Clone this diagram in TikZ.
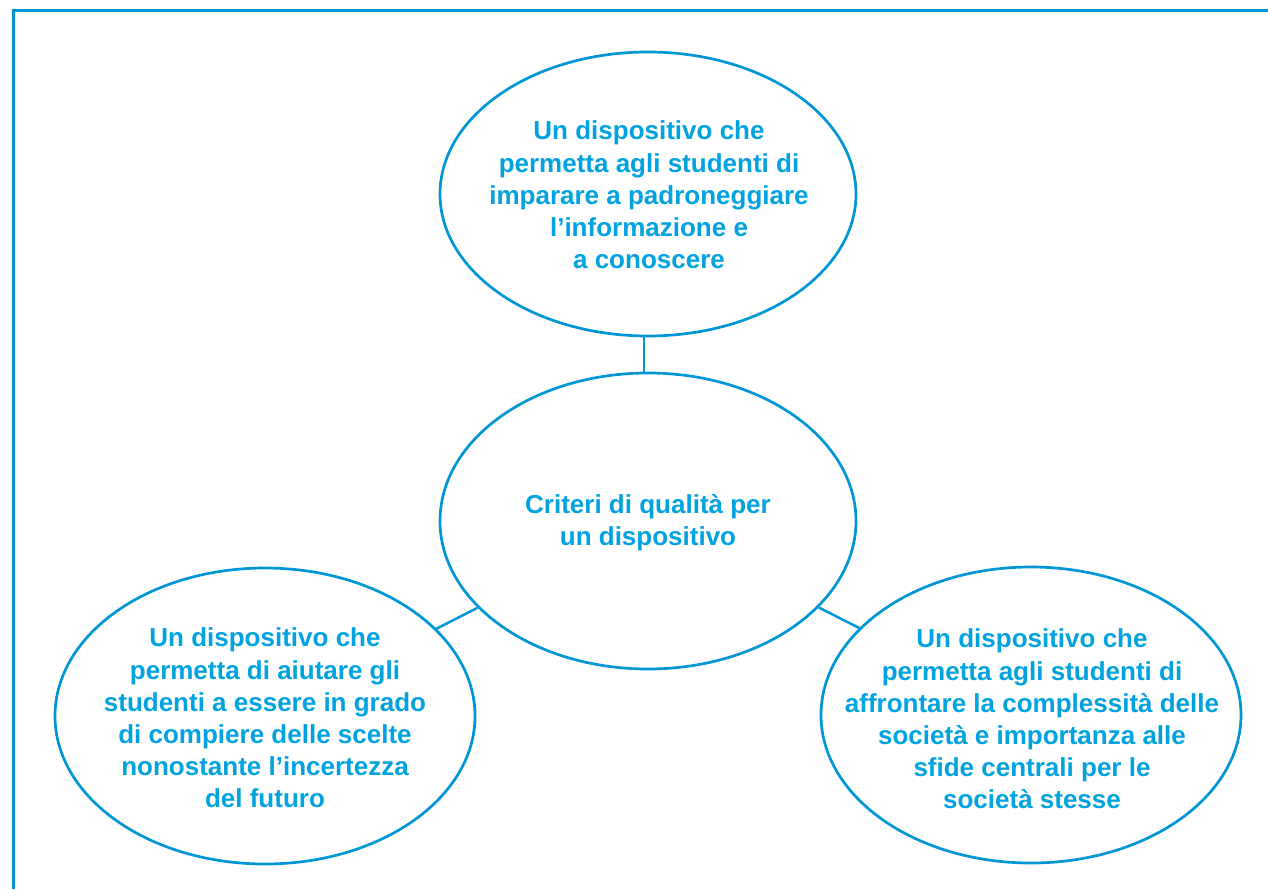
\documentclass[tikz,border=0pt]{standalone}
\usepackage{fontspec}
\setmainfont{Liberation Sans}
\usepackage{tikz}
\usetikzlibrary{shapes.geometric}
\definecolor{framecol}{RGB}{0,150,214}
\definecolor{textcol}{RGB}{0,162,224}

\begin{document}
\begin{tikzpicture}[x=1pt,y=-1pt,thick,
	main node/.style={ellipse,draw=framecol,line width=2.7pt,inner sep=0pt},
	text node/.style={align=center,text=textcol,font=\fontsize{26}{32.2}\selectfont\bfseries}]
	
	\useasboundingbox (0,0) rectangle (1268,889);
	\draw[framecol,line width=3pt] (13,889) -- (13,10.5) -- (1268,10.5);
	
	\node[main node,minimum width=416pt,minimum height=284pt] (1) at (648,194) {};
	\node[main node,minimum width=416pt,minimum height=296pt] (2) at (648,521) {};
	\node[main node,minimum width=420pt,minimum height=296pt] (3) at (265,716) {};
	\node[main node,minimum width=420pt,minimum height=296pt] (4) at (1031,715) {};
	
	\node[text node] (t1) at (649,195) {Un dispositivo che\\permetta agli studenti di\\imparare a padroneggiare\\l’informazione e\\a conoscere};
	\node[text node] (t2) at (648,523) {Criteri di qualità per\\un dispositivo};
	\node[text node] (t3) at (265,718) {Un dispositivo che\\permetta di aiutare gli\\studenti a essere in grado\\di compiere delle scelte\\nonostante l’incertezza\\del futuro};
	\node[text node] (t4) at (1032,719) {Un dispositivo che\\permetta agli studenti di\\affrontare la complessità delle\\società e importanza alle\\sfide centrali per le\\società stesse};
	
	\path[draw=framecol,line width=2.5pt]
	([xshift=-4pt]1.south) edge ([xshift=-4pt]2.north)
	(2) edge (3)
	edge (4);
	
\end{tikzpicture}
\end{document}
